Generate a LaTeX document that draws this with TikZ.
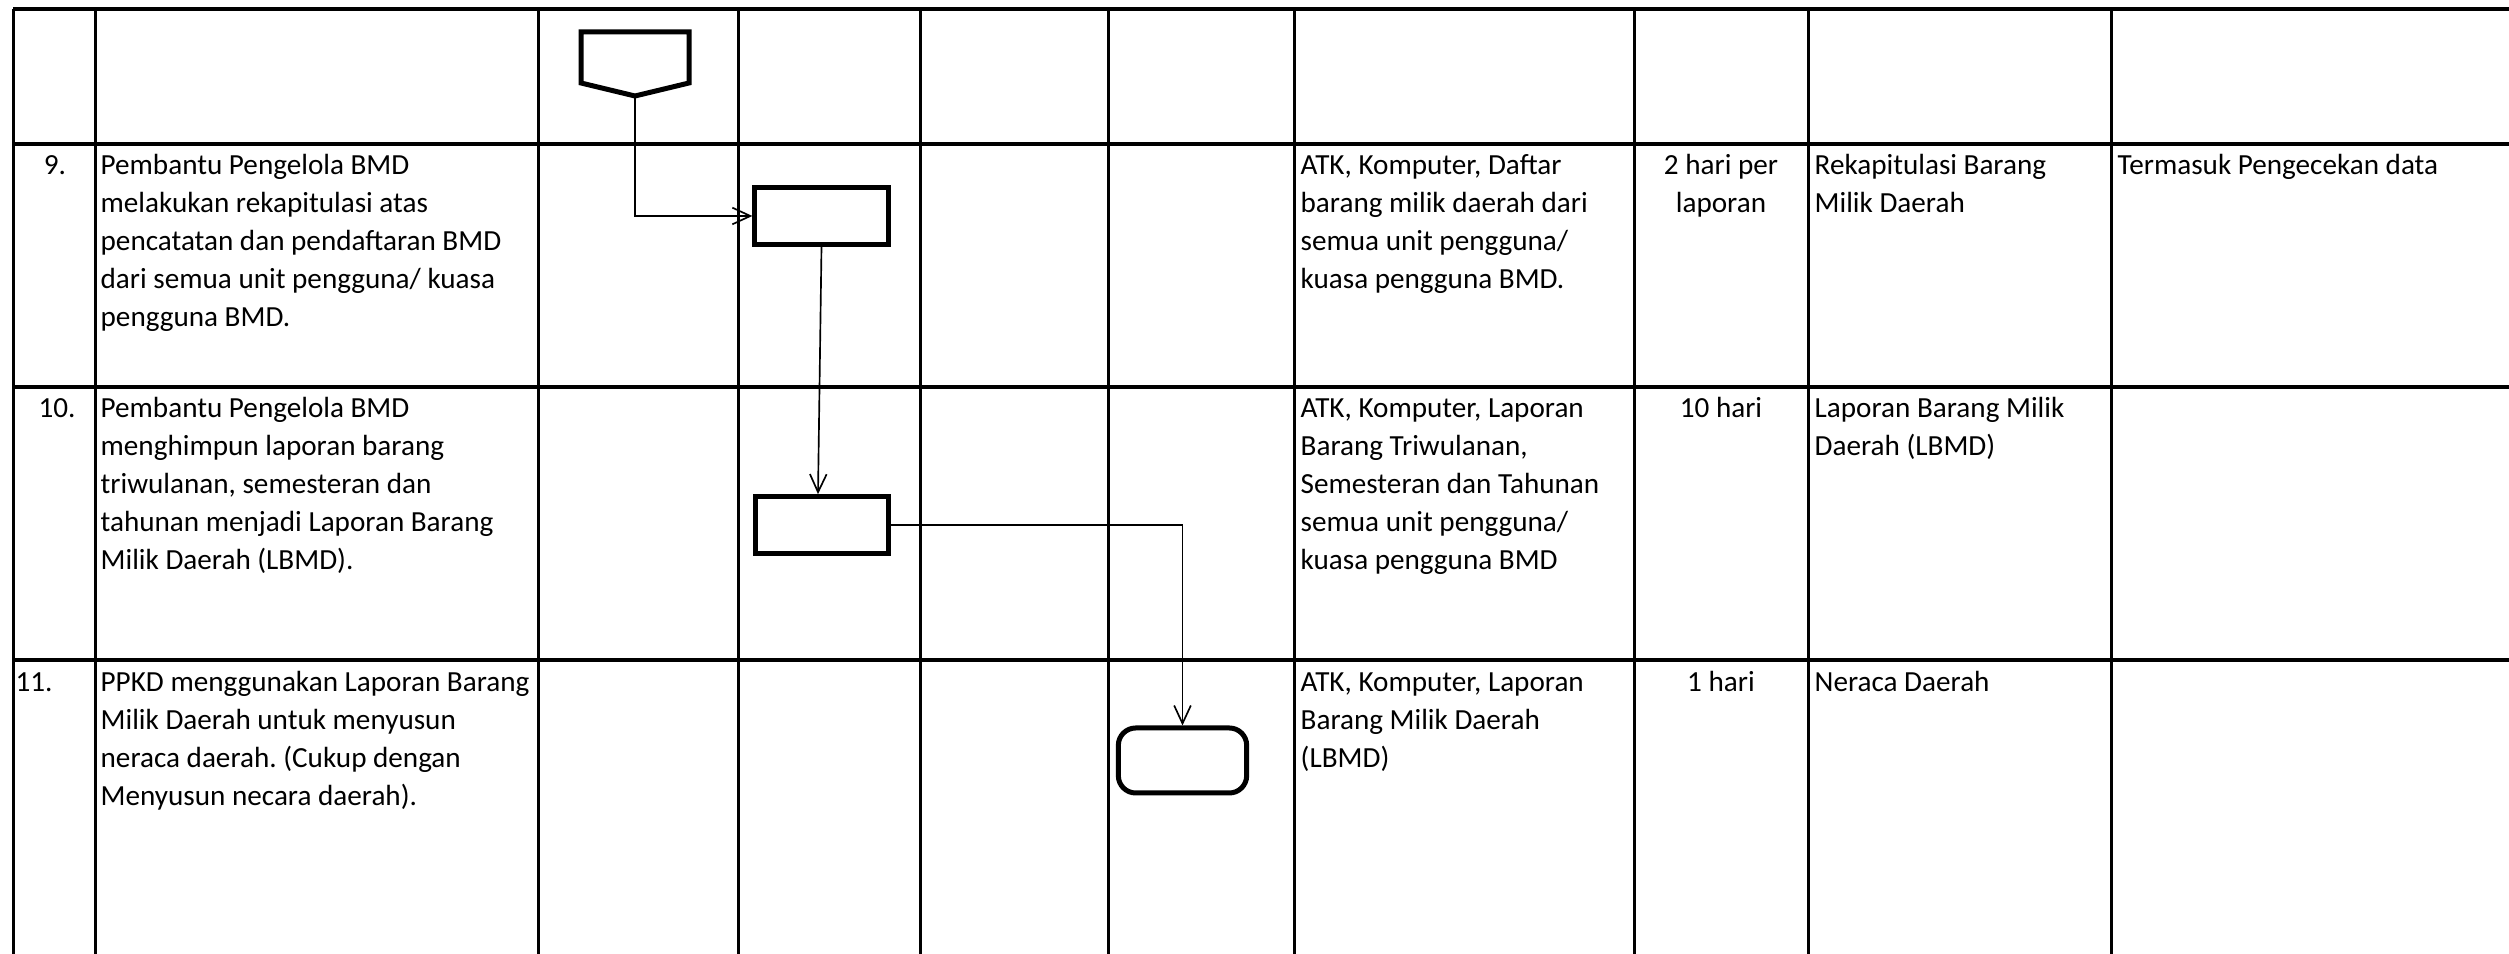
\documentclass[tikz,border=0pt]{standalone}
\usepackage{fontspec}
\setmainfont{Carlito}
\usetikzlibrary{arrows.meta,calc}
\frenchspacing
\begin{document}
\begin{tikzpicture}[x=0.3pt,y=-0.3pt,
  hline/.style={line width=1pt},
  vline/.style={line width=0.9pt},
  shp/.style={draw,line width=1.5pt,line join=miter},
  boxshape/.style={shp,rectangle,minimum width=40pt,minimum height=17pt,inner sep=0pt},
  termshape/.style={shp,rectangle,rounded corners=5.2pt,minimum width=38.5pt,minimum height=19.5pt,inner sep=0pt},
  conn/.style={line width=0.5pt,-{Straight Barb[length=5.4pt,width=5pt]}},
  txt/.style={inner sep=0pt,anchor=north west,align=left,font=\fontsize{8.75}{11.4}\selectfont},
  ctxt/.style={txt,anchor=north,align=center}]
\useasboundingbox (0,0) rectangle (2509,954);
% table grid
\foreach \yy in {9,144,387,660} \draw[hline] (13,\yy) -- (2509,\yy);
\foreach \xx in {13,95,538,738,920,1108,1294,1634,1808,2111} \draw[vline] (\xx,9) -- (\xx,954);
% shapes
\coordinate (opctip) at (635,96);
\draw[shp] (581,32) -- (689,32) -- (689,83) -- (opctip) -- (581,83) -- cycle;
\node[boxshape] (box9) at (821.5,216) {};
\node[boxshape] (box10) at (822,525) {};
\node[termshape] (term) at (1182.5,760.5) {};
% connectors
\draw[conn] (opctip) |- (box9.west);
\draw[conn] (box9.south) -- ([xshift=-1.2pt]box10.north);
\draw[conn] (box10.east) -| (term.north);
% row 9
\node[ctxt] (n9) at (55,147.4) {\strut 9.};
\node[txt] (d9) at (100,147.4) {\strut Pembantu Pengelola BMD\\melakukan rekapitulasi atas\\pencatatan dan pendaftaran BMD\\dari semua unit pengguna/ kuasa\\pengguna BMD.};
\node[txt] (r9) at (1300,147.4) {\strut ATK, Komputer, Daftar\\barang milik daerah dari\\semua unit pengguna/\\kuasa pengguna BMD.};
\node[ctxt] (t9) at (1721,147.4) {\strut 2 hari per\\laporan};
\node[txt] (o9) at (1814,147.4) {\strut Rekapitulasi Barang\\Milik Daerah};
\node[txt] (k9) at (2117,147.4) {\strut Termasuk Pengecekan data};
% row 10
\node[ctxt] (n10) at (57,390.4) {\strut 10.};
\node[txt] (d10) at (100,390.4) {\strut Pembantu Pengelola BMD\\menghimpun laporan barang\\triwulanan, semesteran dan\\tahunan menjadi Laporan Barang\\Milik Daerah (LBMD).};
\node[txt] (r10) at (1300,390.4) {\strut ATK, Komputer, Laporan\\Barang Triwulanan,\\Semesteran dan Tahunan\\semua unit pengguna/\\kuasa pengguna BMD};
\node[ctxt] (t10) at (1721,390.4) {\strut 10 hari};
\node[txt] (o10) at (1814,390.4) {\strut Laporan Barang Milik\\Daerah (LBMD)};
% row 11
\node[txt] (n11) at (15,664.4) {\strut 11.};
\node[txt] (d11) at (100,664.4) {\strut PPKD menggunakan Laporan Barang\\Milik Daerah untuk menyusun\\neraca daerah. (Cukup dengan\\Menyusun necara daerah).};
\node[txt] (r11) at (1300,664.4) {\strut ATK, Komputer, Laporan\\Barang Milik Daerah\\(LBMD)};
\node[ctxt] (t11) at (1721,664.4) {\strut 1 hari};
\node[txt] (o11) at (1814,664.4) {\strut Neraca Daerah};
\end{tikzpicture}
\end{document}
